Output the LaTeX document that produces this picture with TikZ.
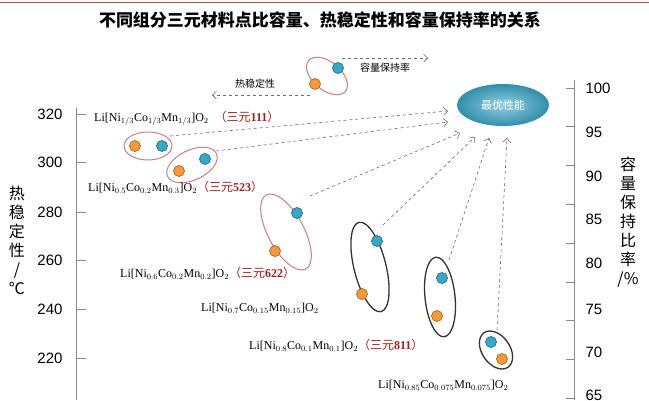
\documentclass[tikz,border=0pt]{standalone}
\usepackage{fontspec}
\setmainfont{Liberation Serif}
\newfontfamily\cjk{Noto Sans CJK SC}
\newfontfamily\numf{Liberation Sans}
\usetikzlibrary{arrows.meta}
\definecolor{org}{HTML}{F39A3D}
\definecolor{orgd}{HTML}{B8641A}
\definecolor{blu}{HTML}{3BA7C8}
\definecolor{blud}{HTML}{1F6E8A}
\definecolor{pinkr}{HTML}{C98080}
\definecolor{redl}{HTML}{A01E1E}
\definecolor{axg}{HTML}{8A8A8A}
\tikzset{
 od/.style={circle,fill=org,draw=orgd,line width=0.7pt,minimum size=11pt,inner sep=0pt},
 bd/.style={circle,fill=blu,draw=blud,line width=0.7pt,minimum size=11pt,inner sep=0pt},
 be/.style={draw=black!80,line width=1.3pt},
 darr/.style={dashed,draw=gray!85!black,line width=0.6pt,-{Straight Barb[length=4pt]}},
 form/.style={font=\fontsize{12}{14}\selectfont,inner sep=0pt},
 ytk/.style={font=\numf\fontsize{15}{17}\selectfont},
}
\begin{document}
\begin{tikzpicture}[x=1pt,y=-1pt]
\useasboundingbox (0,0) rectangle (649,400);
\fill[white] (0,0) rectangle (649,400);
\draw[redl!80,line width=1pt] (0,2) -- (649,2);
\node[font=\cjk\bfseries\fontsize{17}{19}\selectfont] (title) at (320,20) {不同组分三元材料点比容量、热稳定性和容量保持率的关系};
% left axis
\draw[axg,line width=1pt] (76,108) -- (76,400);
\foreach \v/\y in {320/114,300/162,280/212,260/260,240/309,220/358}{
 \draw[axg,line width=0.8pt] (76,\y) -- (86,\y);
 \node[ytk,anchor=east] at (66,\y) {\v};}
% right axis
\draw[axg,line width=1pt] (574,80) -- (574,400);
\foreach \k in {0,...,8}{\draw[axg,line width=0.8pt] (566,88+38.8*\k) -- (574,88+38.8*\k);}
\foreach \v/\y in {100/88,95/132,90/176,85/219,80/263,75/309,70/352,65/395}{
 \node[ytk,anchor=west] at (582,\y) {\v};}
\node[font=\cjk\fontsize{16}{19}\selectfont,align=center] (ly) at (17,240) {热\\稳\\定\\性\\/\\℃};
\node[font=\cjk\fontsize{16}{19}\selectfont,align=center] (ry) at (628,222) {容\\量\\保\\持\\比\\率\\/\%};
% best
\shade[inner color=blu!55,outer color=blu!85!black] (503,105) ellipse (46 and 21);
\node[font=\cjk\fontsize{11}{13}\selectfont,text=white] (best) at (503,105) {最优性能};
\coordinate (b1) at (448,111); \coordinate (b2) at (448,122);
\coordinate (b3) at (460,133); \coordinate (b4) at (475,137);
\coordinate (b5) at (489,138); \coordinate (b6) at (507,138);
% legend
\draw[pinkr,line width=1pt,rotate around={-40:(327,76)}] (327,76) ellipse (24 and 14);
\node[od] (lo) at (315,84) {}; \node[bd] (lb) at (338,68) {};
\coordinate (la) at (342,58); \coordinate (lae) at (428,58);
\coordinate (lt) at (310,95); \coordinate (lte) at (212,95);
\draw[darr] (la) -- (lae); \draw[darr] (lt) -- (lte);
\node[font=\cjk\fontsize{10}{12}\selectfont] (lcap) at (385,68) {容量保持率};
\node[font=\cjk\fontsize{10}{12}\selectfont] (lth) at (255,84) {热稳定性};
% group 111
\draw[pinkr,line width=1pt] (148,146) ellipse (24 and 14);
\node[od] (o1) at (135,146) {}; \node[bd] (c1) at (162,146) {};
\node[form,anchor=west] (t1) at (94,118) {Li[Ni$_{1/3}$Co$_{1/3}$Mn$_{1/3}$]O$_2$\ \ {\color{redl}\cjk（三元\textbf{\rmfamily 111}）}};
% 523
\draw[pinkr,line width=1pt,rotate around={25:(192,165)}] (192,165) ellipse (27 and 15);
\node[od] (o2) at (179,171) {}; \node[bd] (c2) at (205,159) {};
\node[form,anchor=west] (t2) at (88,187) {Li[Ni$_{0.5}$Co$_{0.2}$Mn$_{0.3}$]O$_2${\color{redl}\cjk（三元\textbf{\rmfamily 523}）}};
% 622
\draw[pinkr,line width=1pt,rotate around={-62:(286,232)}] (286,232) ellipse (42 and 18);
\node[od] (o3) at (275,251) {}; \node[bd] (c3) at (297,213) {};
\node[form,anchor=west] (t3) at (120,273) {Li[Ni$_{0.6}$Co$_{0.2}$Mn$_{0.2}$]O$_2${\color{redl}\cjk（三元\textbf{\rmfamily 622}）}};
% 0.7
\draw[be,rotate around={-76:(370,267)}] (370,267) ellipse (46 and 16);
\node[od] (o4) at (362,294) {}; \node[bd] (c4) at (377,241) {};
\node[form,anchor=west] (t4) at (201,308) {Li[Ni$_{0.7}$Co$_{0.15}$Mn$_{0.15}$]O$_2$};
% 811
\draw[be,rotate around={-84:(440,297)}] (440,297) ellipse (40 and 15);
\node[od] (o5) at (437,316) {}; \node[bd] (c5) at (442,278) {};
\node[form,anchor=west] (t5) at (249,345) {Li[Ni$_{0.8}$Co$_{0.1}$Mn$_{0.1}$]O$_2${\color{redl}\cjk（三元\textbf{\rmfamily 811}）}};
% 0.85
\draw[be,rotate around={-55:(496,350)}] (496,350) ellipse (21 and 14);
\node[od] (o6) at (502,359) {}; \node[bd] (c6) at (491,342) {};
\node[form,anchor=west] (t6) at (378,385) {Li[Ni$_{0.85}$Co$_{0.075}$Mn$_{0.075}$]O$_2$};
% arrows
\coordinate (s1) at (170,136); \coordinate (s2) at (216,151);
\coordinate (s3) at (310,196); \coordinate (s4) at (383,225);
\coordinate (s5) at (449,260); \coordinate (s6) at (497,330);
\foreach \i in {1,...,6}{\draw[darr] (s\i) -- (b\i);}
\end{tikzpicture}
\end{document}
